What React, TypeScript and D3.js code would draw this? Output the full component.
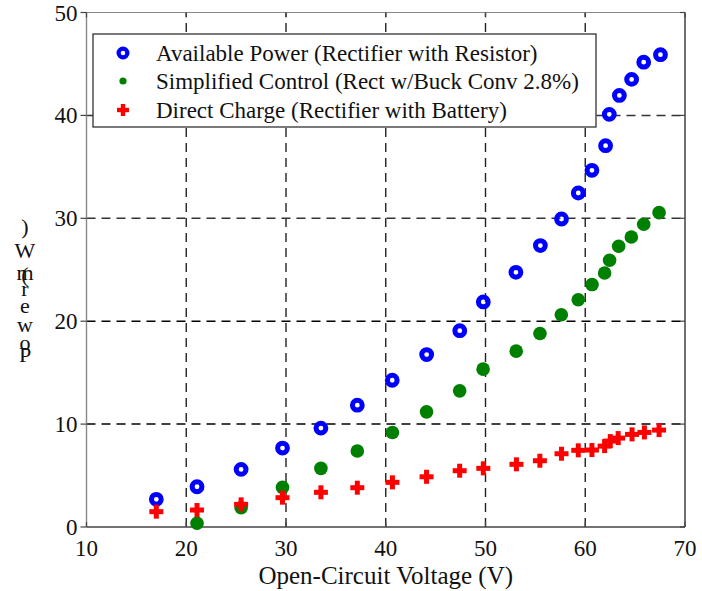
import React from "react";
import * as d3 from "d3";

const voltAvail = [17.0, 21.08, 25.5, 29.65, 33.5, 37.15, 40.65, 44.1, 47.42, 49.78, 53.05, 55.5, 57.62, 59.3, 60.67, 62.04, 62.41, 63.42, 64.65, 65.86, 67.54];
const powerAvail = [2.69, 3.91, 5.6, 7.67, 9.61, 11.84, 14.26, 16.76, 19.08, 21.87, 24.75, 27.35, 29.93, 32.46, 34.66, 37.06, 40.1, 41.94, 43.5, 45.17, 45.9];

const voltSimp = [21.08, 25.5, 29.65, 33.5, 37.15, 40.67, 44.09, 47.41, 49.76, 53.08, 55.46, 57.6, 59.3, 60.68, 61.94, 62.44, 63.35, 64.62, 65.86, 67.4];
const powerSimp = [0.36, 1.87, 3.85, 5.7, 7.38, 9.19, 11.19, 13.23, 15.34, 17.09, 18.8, 20.63, 22.08, 23.56, 24.69, 25.92, 27.28, 28.18, 29.42, 30.55];

const voltDirect = [17.0, 21.08, 25.5, 29.65, 33.5, 37.15, 40.67, 44.09, 47.41, 49.78, 53.1, 55.45, 57.62, 59.3, 60.67, 61.94, 62.51, 63.3, 64.69, 65.93, 67.4];
const powerDirect = [1.49, 1.65, 2.2, 2.85, 3.37, 3.82, 4.34, 4.88, 5.47, 5.7, 6.09, 6.44, 7.12, 7.45, 7.48, 7.86, 8.35, 8.64, 9.0, 9.19, 9.42];

const xTicks = [10, 20, 30, 40, 50, 60, 70];
const yTicks = [0, 10, 20, 30, 40, 50];
const xGrid = [20, 30, 40, 50, 60];
const yGrid = [10, 20, 30, 40];

const legendLabels = [
  "Available Power (Rectifier with Resistor)",
  "Simplified Control (Rect w/Buck Conv 2.8%)",
  "Direct Charge (Rectifier with Battery)",
];
const xLabel = "Open-Circuit Voltage (V)";
const yLabel = "Power (mW)";

const FONT = "'Liberation Serif', 'Times New Roman', serif";
const BLUE = "#0000ff";
const GREEN = "#008000";
const RED = "#ff0000";

function Ring({ x, y, r = 4.9, w = 5 }: { x: number; y: number; r?: number; w?: number }) {
  return <circle cx={x} cy={y} r={r} fill="none" stroke={BLUE} strokeWidth={w} />;
}
function Dot({ x, y, r = 6.8 }: { x: number; y: number; r?: number }) {
  return <circle cx={x} cy={y} r={r} fill={GREEN} />;
}
function Plus({ x, y, a = 7, w = 5 }: { x: number; y: number; a?: number; w?: number }) {
  return (
    <g>
      <rect x={x - a} y={y - w / 2} width={2 * a} height={w} fill={RED} />
      <rect x={x - w / 2} y={y - a} width={w} height={2 * a} fill={RED} />
    </g>
  );
}

export default function App() {
  const x = d3.scaleLinear().domain([10, 70]).range([86.5, 685]);
  const y = d3.scaleLinear().domain([0, 50]).range([527, 12.5]);
  const [x0, x1] = x.range();
  const [y0, y1] = y.range();

  // stacked upright glyphs of the y label, reading bottom to top (as in the reference)
  const glyphs = yLabel.replace(" ", "").split("");
  const glyphY = [362, 350, 332, 313, 296, 282, 280, 258, 234];

  const legX = 93, legY = 34, legW = 503, legH = 93;
  const rowY = [53, 81, 110];

  return (
    <svg
      width={702}
      height={591}
      style={{ position: "absolute", left: 0, top: 0, background: "#fff" }}
      fontFamily={FONT}
    >
      <rect width={702} height={591} fill="#fff" />
      {/* grid */}
      {xGrid.map((v) => (
        <line key={"gx" + v} x1={x(v)} x2={x(v)} y1={y0} y2={y1} stroke="#222" strokeWidth={1.4} strokeDasharray="9,6" />
      ))}
      {yGrid.map((v) => (
        <line key={"gy" + v} x1={x0} x2={x1} y1={y(v)} y2={y(v)} stroke={v <= 20 ? "#000" : "#333"} strokeWidth={1.5} strokeDasharray="9,6" />
      ))}
      {/* frame */}
      <line x1={x0} x2={x1} y1={y1} y2={y1} stroke="#888" strokeWidth={1.2} />
      <line x1={x0} x2={x0} y1={y0} y2={y1} stroke="#888" strokeWidth={1.4} />
      <line x1={x1} x2={x1} y1={y0} y2={y1} stroke="#333" strokeWidth={1.4} />
      <line x1={x0} x2={x1} y1={y0} y2={y0} stroke="#444" strokeWidth={1.4} />
      {/* ticks */}
      {yTicks.map((v) => (
        <g key={"ty" + v}>
          <line x1={x0 - 6} x2={x0} y1={y(v)} y2={y(v)} stroke="#444" strokeWidth={1.2} />
          <line x1={x1 - 5} x2={x1} y1={y(v)} y2={y(v)} stroke="#444" strokeWidth={1.2} />
          <text x={x0 - 9} y={y(v) + 8} textAnchor="end" fontSize={23} fill="#111">{v}</text>
        </g>
      ))}
      {xTicks.map((v) => (
        <g key={"tx" + v}>
          <line x1={x(v)} x2={x(v)} y1={y0} y2={y0 - 5} stroke="#444" strokeWidth={1.2} />
          <line x1={x(v)} x2={x(v)} y1={y1} y2={y1 + 5} stroke="#444" strokeWidth={1.2} />
          <text x={x(v)} y={556} textAnchor="middle" fontSize={23} fill="#111">{v}</text>
        </g>
      ))}
      {/* axis labels */}
      <text x={(x0 + x1) / 2} y={584} textAnchor="middle" fontSize={25} fill="#111">{xLabel}</text>
      {glyphs.map((c, i) => (
        <text key={"yl" + i} x={25} y={glyphY[i]} textAnchor="middle" fontSize={22} fill="#111">{c}</text>
      ))}
      {/* data */}
      {voltSimp.map((v, i) => <Dot key={"g" + i} x={x(v)} y={y(powerSimp[i])} />)}
      {voltAvail.map((v, i) => <Ring key={"b" + i} x={x(v)} y={y(powerAvail[i])} />)}
      {voltDirect.map((v, i) => <Plus key={"r" + i} x={x(v)} y={y(powerDirect[i])} />)}
      {/* legend */}
      <rect x={legX} y={legY} width={legW} height={legH} fill="#fff" stroke="#222" strokeWidth={1.2} />
      <Ring x={123} y={rowY[0]} r={4.4} w={4.2} />
      <Dot x={123} y={rowY[1]} r={3.6} />
      <Plus x={123} y={rowY[2]} a={6} w={4.4} />
      {legendLabels.map((t, i) => (
        <text key={"lt" + i} x={156} y={rowY[i] + 8} fontSize={23} fill="#111">{t}</text>
      ))}
    </svg>
  );
}
